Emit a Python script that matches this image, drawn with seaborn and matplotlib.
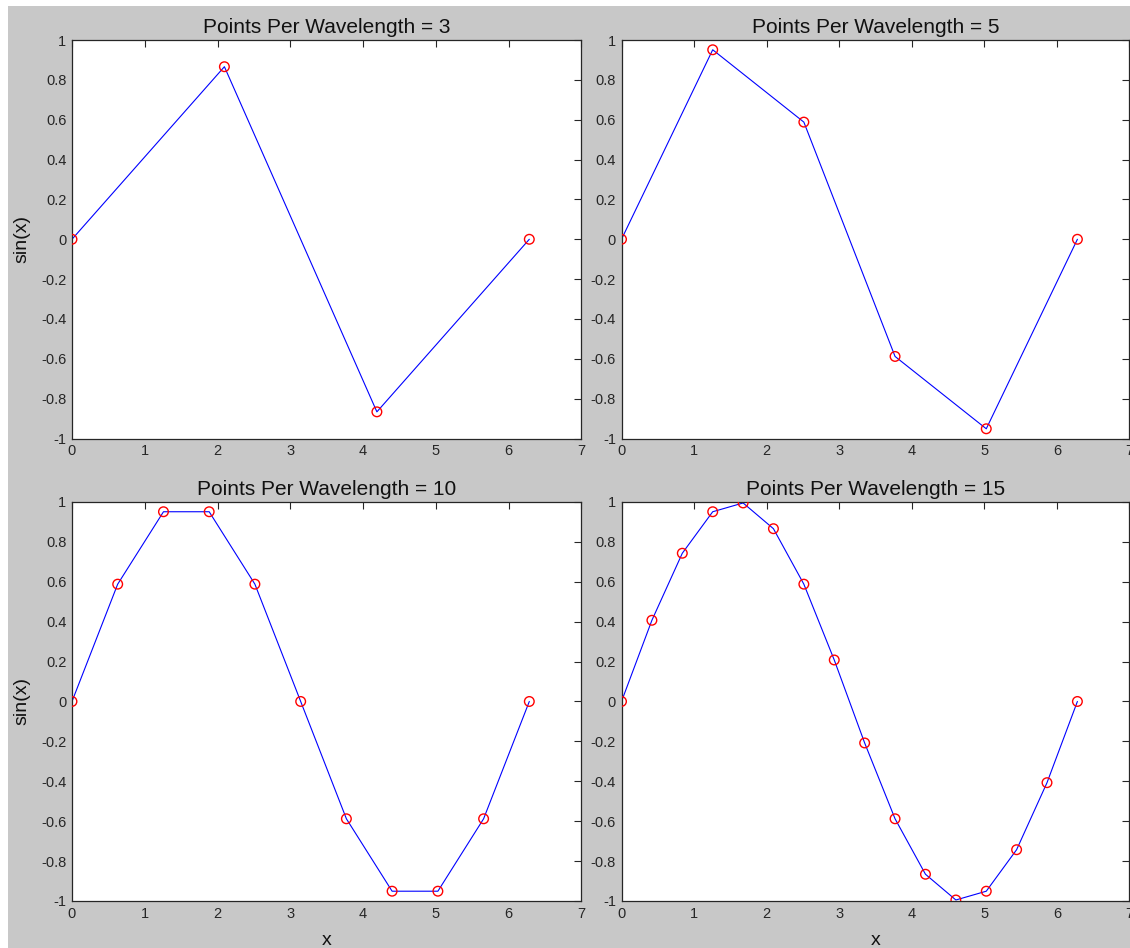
import matplotlib
import matplotlib.pyplot as plt
import pandas as pd
import seaborn as sns
from matplotlib.patches import Rectangle

sns.set_style("white")
plt.rcParams['font.family'] = ['Liberation Sans', 'DejaVu Sans']

# sample points
x3 = [0, 2.094, 4.189, 6.283]
y3 = [0, 0.866, -0.866, 0]

x5 = [0, 1.257, 2.513, 3.770, 5.027, 6.283]
y5 = [0, 0.951, 0.588, -0.588, -0.951, 0]

x10 = [0, 0.628, 1.257, 1.885, 2.513, 3.142, 3.770, 4.398, 5.027, 5.655, 6.283]
y10 = [0, 0.588, 0.951, 0.951, 0.588, 0, -0.588, -0.951, -0.951, -0.588, 0]

x15 = [0, 0.419, 0.838, 1.257, 1.676, 2.094, 2.513, 2.932, 3.351, 3.770,
       4.189, 4.608, 5.027, 5.445, 5.864, 6.283]
y15 = [0, 0.407, 0.743, 0.951, 0.995, 0.866, 0.588, 0.208, -0.208, -0.588,
       -0.866, -0.995, -0.951, -0.743, -0.407, 0]

ppw = [3, 5, 10, 15]
xs = [x3, x5, x10, x15]
ys = [y3, y5, y10, y15]

xticks = [0, 1, 2, 3, 4, 5, 6, 7]
yticks = [-1, -0.8, -0.6, -0.4, -0.2, 0, 0.2, 0.4, 0.6, 0.8, 1]
ytick_labels = ['-1', '-0.8', '-0.6', '-0.4', '-0.2', '0', '0.2', '0.4', '0.6', '0.8', '1']

gray = '#c8c8c8'
axcol = '#262626'

fig = plt.figure(figsize=(11.3, 9.48), dpi=100, facecolor='white')
fig.patches.append(Rectangle((8 / 1130, 0), 1, 1 - 6 / 948, transform=fig.transFigure,
                             facecolor=gray, edgecolor='none', zorder=-1))

positions = [
    [0.0637, 0.5374, 0.4509, 0.4204],
    [0.5500, 0.5374, 0.4495, 0.4204],
    [0.0637, 0.0496, 0.4509, 0.4209],
    [0.5500, 0.0496, 0.4495, 0.4209],
]

for i in range(4):
    ax = fig.add_axes(positions[i])
    ax.set_facecolor('white')
    df = pd.DataFrame({'x': xs[i], 'y': ys[i]})
    sns.lineplot(data=df, x='x', y='y', color='blue', linewidth=0.8, ax=ax, sort=False)
    sns.scatterplot(data=df, x='x', y='y', marker='o', s=48, facecolors='none',
                    edgecolor='red', linewidth=1.0, ax=ax, zorder=3)
    ax.set_xlim(0, 7)
    ax.set_ylim(-1, 1)
    ax.set_xticks(xticks)
    ax.set_yticks(yticks)
    ax.set_yticklabels(ytick_labels)
    ax.tick_params(direction='in', length=5, width=0.8, colors=axcol, labelsize=10.5,
                   top=True, right=True, pad=4)
    for s in ax.spines.values():
        s.set_color(axcol)
        s.set_linewidth(0.9)
    ax.set_title(f'Points Per Wavelength = {ppw[i]}', fontsize=15, pad=5, color='#111111')
    if i in (0, 2):
        ax.set_ylabel('sin(x)', fontsize=14, labelpad=8, color='#111111')
    else:
        ax.set_ylabel('')
    if i in (2, 3):
        ax.set_xlabel('x', fontsize=14, labelpad=8, color='#111111')
    else:
        ax.set_xlabel('')

fig.savefig('out.png', dpi=100, facecolor=fig.get_facecolor())
